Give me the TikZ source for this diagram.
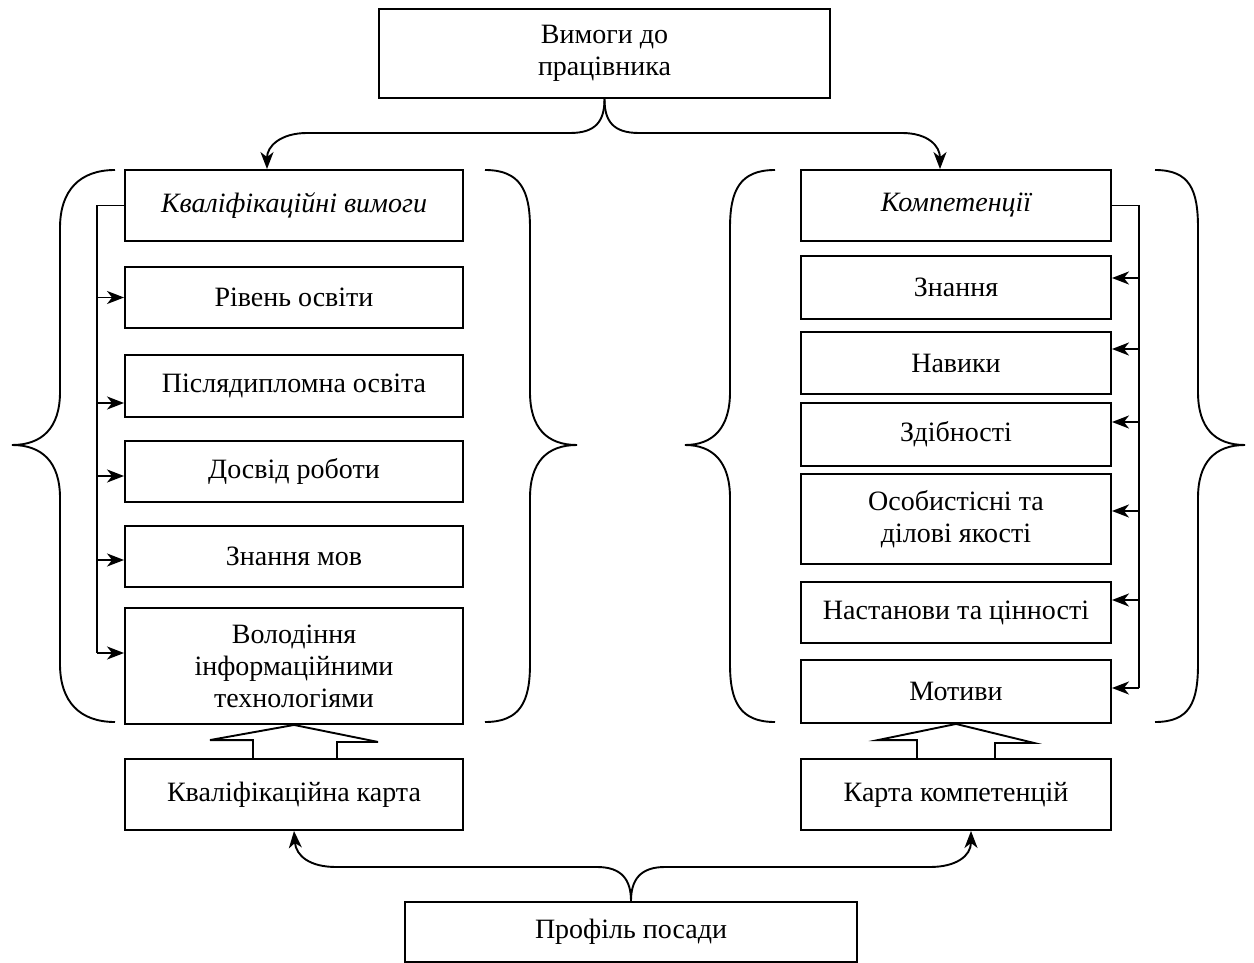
\documentclass[tikz,border=0pt]{standalone}
\usepackage{fontspec}
\setmainfont{Liberation Serif}
\usetikzlibrary{arrows.meta,calc}
\begin{document}
\begin{tikzpicture}[x=1pt,y=-1pt,line width=1.9pt,
  box/.style={draw,rectangle,inner sep=0pt,align=center,font=\fontsize{28}{32}\selectfont},
  lbox/.style={box,minimum width=338pt},
  rbox/.style={box,minimum width=310pt},
  arr/.style={-{Stealth[length=17pt,width=13pt,inset=5pt]}},
  brace/.style={line width=1.9pt},
  blockarrow/.style={line width=1.9pt,line join=miter}]
\useasboundingbox (0,0) rectangle (1254,963);
% top and bottom boxes
\node[box,minimum width=451pt,minimum height=89pt] (top) at (604.5,53.5) {Вимоги до\\працівника};
\node[box,minimum width=452pt,minimum height=60pt] (prof) at (631,932) {Профіль посади};
% left column
\node[lbox,minimum height=71pt] (kv) at (294,205.5) {\itshape Кваліфікаційні вимоги};
\node[lbox,minimum height=61pt] (riv) at (294,297.5) {Рівень освіти};
\node[lbox,minimum height=62pt] (pisl) at (294,386) {Післядипломна освіта};
\node[lbox,minimum height=61pt] (dosv) at (294,471.5) {Досвід роботи};
\node[lbox,minimum height=61pt] (mov) at (294,556.5) {Знання мов};
\node[lbox,minimum height=116pt] (vol) at (294,666) {Володіння\\інформаційними\\технологіями};
\node[lbox,minimum height=71pt] (kk) at (294,794.5) {Кваліфікаційна карта};
% right column
\node[rbox,minimum height=71pt] (komp) at (956,205.5) {\itshape Компетенції};
\node[rbox,minimum height=63pt] (zn) at (956,287.5) {Знання};
\node[rbox,minimum height=62pt] (nav) at (956,363) {Навики};
\node[rbox,minimum height=63pt] (zd) at (956,434.5) {Здібності};
\node[rbox,minimum height=90pt] (os) at (956,519) {Особистісні та\\ділові якості};
\node[rbox,minimum height=61pt] (nast) at (956,612.5) {Настанови та цінності};
\node[rbox,minimum height=63pt] (mot) at (956,691.5) {Мотиви};
\node[rbox,minimum height=71pt] (kmk) at (956,794.5) {Карта компетенцій};
% bus coordinates and arrow targets
\coordinate (lbus) at (97,0);
\coordinate (rbus) at (1139,0);
\coordinate (triv) at (riv.west);
\coordinate (tpisl) at ([yshift=-17pt]pisl.west);
\coordinate (tdosv) at ([yshift=-4.5pt]dosv.west);
\coordinate (tmov) at ([yshift=-3.5pt]mov.west);
\coordinate (tvol) at ([yshift=13pt]vol.west);
\coordinate (tzn) at ([yshift=9.5pt]zn.east);
\coordinate (tnav) at ([yshift=14pt]nav.east);
\coordinate (tzd) at ([yshift=12.5pt]zd.east);
\coordinate (tos) at ([yshift=8pt]os.east);
\coordinate (tnast) at ([yshift=12.5pt]nast.east);
\coordinate (tmot) at ([yshift=3.5pt]mot.east);
% left bus
\draw (kv.west) -- (kv.west -| lbus) -- (lbus |- tvol);
\foreach \t in {triv,tpisl,tdosv,tmov,tvol} \draw[arr] (lbus |- \t) -- (\t);
% right bus
\draw (komp.east) -- (komp.east -| rbus) -- (rbus |- tmot);
\foreach \t in {tzn,tnav,tzd,tos,tnast,tmot} \draw[arr] (rbus |- \t) -- (\t);
% top split arrows
\coordinate (tkv) at ([xshift=-27pt]kv.north);
\coordinate (tkomp) at ([xshift=-16pt]komp.north);
\draw[arr] (top.south) .. controls (604.5,121) and (596,133) .. (570,133) -- (307,133) .. controls (281,133) and (267,146) .. (tkv);
\draw[arr] (top.south) .. controls (604.5,121) and (613,133) .. (639,133) -- (902,133) .. controls (928,133) and (940,146) .. (tkomp);
% bottom split arrows
\coordinate (tkmk) at ([xshift=15pt]kmk.south);
\draw[arr] (prof.north) .. controls (631,880) and (622,867) .. (597,867) -- (336,867) .. controls (310,867) and (296,856) .. (kk.south);
\draw[arr] (prof.north) .. controls (631,880) and (640,867) .. (665,867) -- (930,867) .. controls (956,867) and (971,856) .. (tkmk);
% block arrows
\draw[blockarrow] ([xshift=-41pt]kk.north) -- ++(0,-18) -- ++(-43,0) -- (vol.south) -- ++(84,17) -- ++(-41,0) -- ([xshift=43pt]kk.north);
\draw[blockarrow] ([xshift=-39pt]kmk.north) -- ++(0,-18) -- ++(-39,0) -- (mot.south) -- ++(78,19) -- ++(-39,0) -- ([xshift=39pt]kmk.north);
% braces
\draw[brace] (115,170) .. controls (80,170) and (60,190) .. (60,228) -- (60,392) .. controls (60,428) and (42,445) .. (12,445) .. controls (42,445) and (60,462) .. (60,498) -- (60,664) .. controls (60,702) and (80,722) .. (115,722);
\draw[brace] (485,170) .. controls (520,170) and (530,190) .. (530,228) -- (530,392) .. controls (530,428) and (547,445) .. (577,445) .. controls (547,445) and (530,462) .. (530,498) -- (530,664) .. controls (530,702) and (520,722) .. (485,722);
\draw[brace] (775,170) .. controls (740,170) and (730,190) .. (730,228) -- (730,392) .. controls (730,428) and (713,445) .. (685,445) .. controls (713,445) and (730,462) .. (730,498) -- (730,664) .. controls (730,702) and (740,722) .. (775,722);
\draw[brace] (1155,170) .. controls (1190,170) and (1198,190) .. (1198,228) -- (1198,392) .. controls (1198,428) and (1215,445) .. (1245,445) .. controls (1215,445) and (1198,462) .. (1198,498) -- (1198,664) .. controls (1198,702) and (1190,722) .. (1155,722);
\end{tikzpicture}
\end{document}
